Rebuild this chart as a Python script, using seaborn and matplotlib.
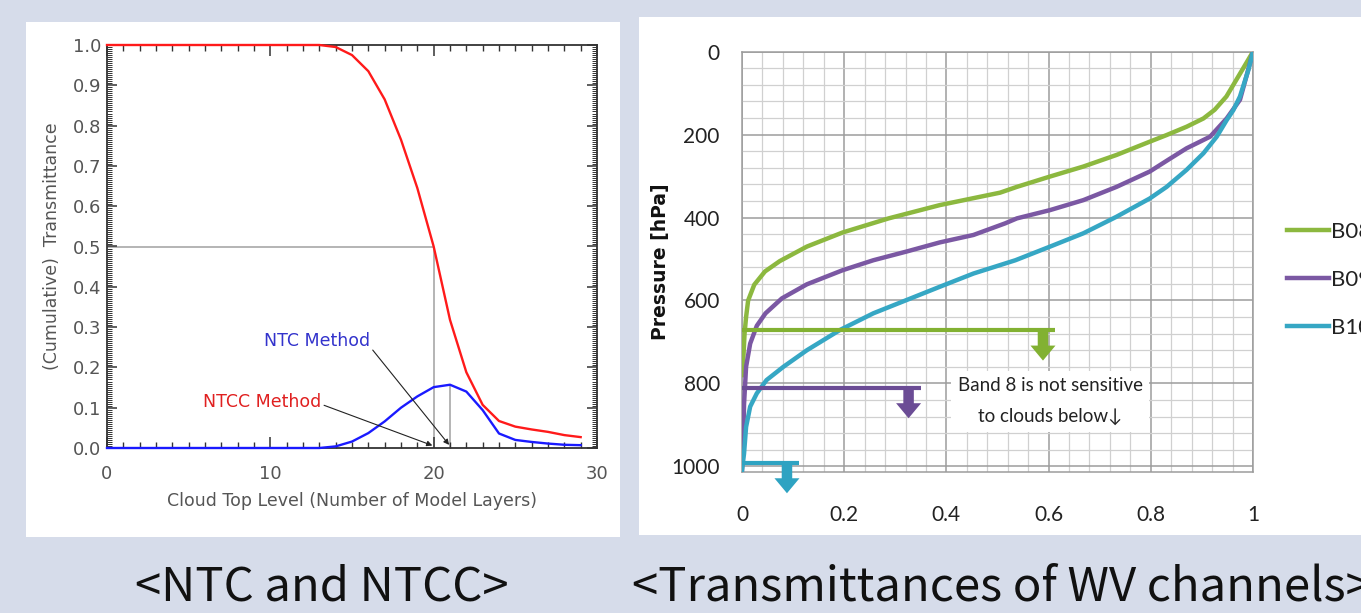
import numpy as np
import pandas as pd
import matplotlib
matplotlib.use("Agg")
import matplotlib.pyplot as plt
import seaborn as sns
from matplotlib.patches import Rectangle
from matplotlib.ticker import MultipleLocator, FixedLocator, FuncFormatter

# ---------------- data: left chart (NTC / NTCC) ----------------
layers = list(range(30))
ntcc = [1.0] * 14 + [0.995, 0.975, 0.935, 0.865, 0.765, 0.645, 0.5, 0.318,
                     0.188, 0.107, 0.067, 0.053, 0.046, 0.040, 0.032, 0.027]
ntc = [0.0] * 14 + [0.004, 0.016, 0.037, 0.066, 0.100, 0.128, 0.151, 0.157,
                    0.140, 0.094, 0.036, 0.020, 0.015, 0.011, 0.008, 0.007]
half_level = 0.5

# ---------------- data: right chart (WV transmittances) ----------------
b08_p = [0, 50, 108, 140, 161, 181, 201, 217, 249, 277, 301, 326, 340, 370, 402,
         436, 470, 505, 530, 562, 600, 640, 680, 730, 780]
b08_t = [1.0, 0.976, 0.948, 0.925, 0.903, 0.870, 0.831, 0.798, 0.733, 0.668, 0.603,
         0.538, 0.505, 0.387, 0.287, 0.197, 0.127, 0.074, 0.045, 0.024, 0.012,
         0.008, 0.005, 0.003, 0.0]
b09_p = [0, 60, 116, 161, 205, 233, 260, 289, 326, 358, 382, 402, 414, 442, 460,
         482, 503, 527, 561, 595, 631, 661, 704, 760, 850, 950, 1010]
b09_t = [1.0, 0.987, 0.9745, 0.9485, 0.916, 0.870, 0.835, 0.798, 0.733, 0.668, 0.603,
         0.538, 0.515, 0.453, 0.387, 0.322, 0.257, 0.197, 0.127, 0.078, 0.046,
         0.029, 0.016, 0.008, 0.004, 0.002, 0.0]
b10_p = [0, 44, 108, 141, 165, 205, 245, 285, 326, 354, 398, 438, 470, 503, 535,
         567, 599, 631, 671, 720, 760, 792, 824, 856, 905, 969, 1010]
b10_t = [1.0, 0.991, 0.9745, 0.9615, 0.9485, 0.929, 0.903, 0.870, 0.831, 0.798,
         0.733, 0.668, 0.603, 0.535, 0.453, 0.387, 0.322, 0.257, 0.192, 0.127,
         0.081, 0.048, 0.029, 0.016, 0.008, 0.004, 0.0]
bands = ["B08", "B09", "B10"]
cloud_level = [671, 810, 991]          # hPa, insensitivity level per band
cloud_line_end = [0.613, 0.350, 0.112]  # transmittance extent of marker line
y_ticks = [0, 200, 400, 600, 800, 1000]
x_ticks = [0, 0.2, 0.4, 0.6, 0.8, 1.0]
x_tick_labels = ["0", "0.2", "0.4", "0.6", "0.8", "1"]

# ---------------- figure ----------------
W, H = 1361, 613
fig = plt.figure(figsize=(W / 100, H / 100), dpi=100, facecolor="#d6dcea")

def fx(px):
    return px / W

def fy(py):
    return 1 - py / H

for (x0, y0, x1, y1) in [(26, 22, 620, 537), (639, 17, 1361, 535)]:
    fig.add_artist(Rectangle((fx(x0), fy(y1)), fx(x1 - x0), (y1 - y0) / H,
                             transform=fig.transFigure, facecolor="white",
                             edgecolor="none", zorder=-5))

# ================= left chart =================
ax1 = fig.add_axes([fx(107), fy(448), fx(490), 403 / H])
ax1.set_facecolor("white")
left_df = pd.DataFrame({"layer": layers, "NTCC": ntcc, "NTC": ntc})

layer_half = left_df.loc[(left_df["NTCC"] - half_level).abs().idxmin(), "layer"]
peak_idx = left_df["NTC"].idxmax()
peak_layer, peak_val = left_df.loc[peak_idx, "layer"], left_df.loc[peak_idx, "NTC"]

ax1.hlines(half_level, 0, layer_half, color="#a8a8a8", lw=1.2, zorder=1)
ax1.vlines(layer_half, 0, half_level, color="#a8a8a8", lw=1.2, zorder=1)
ax1.vlines(peak_layer, 0, peak_val, color="#a8a8a8", lw=1.2, zorder=1)

sns.lineplot(data=left_df, x="layer", y="NTCC", color="#ff1a1a", lw=1.7, ax=ax1,
             estimator=None, zorder=3)
sns.lineplot(data=left_df, x="layer", y="NTC", color="#1a1aff", lw=1.7, ax=ax1,
             estimator=None, zorder=3)
for ln in ax1.lines[-2:]:
    ln.set_clip_on(False)

ax1.set_xlim(0, 30)
ax1.set_ylim(0, 1.0)
ax1.xaxis.set_major_locator(MultipleLocator(10))
ax1.xaxis.set_minor_locator(MultipleLocator(1))
ax1.yaxis.set_major_locator(MultipleLocator(0.1))
ax1.yaxis.set_minor_locator(MultipleLocator(0.005))
ax1.yaxis.set_major_formatter(FuncFormatter(lambda v, p: f"{v:.1f}"))
ax1.tick_params(which="both", direction="in", top=True, right=True,
                color="#333333", labelcolor="#555555", labelsize=13)
ax1.tick_params(axis="x", which="major", length=8, width=1.1, pad=12)
ax1.tick_params(axis="x", which="minor", length=4.5, width=1.0)
ax1.tick_params(axis="y", which="major", length=7, width=1.1, pad=4)
ax1.tick_params(axis="y", which="minor", length=3.5, width=0.7)
for sp in ax1.spines.values():
    sp.set_color("#333333")
    sp.set_linewidth(1.3)
ax1.set_xlabel("Cloud Top Level (Number of Model Layers)", fontsize=12.5,
               color="#555555")
ax1.set_ylabel("(Cumulative)  Transmittance", fontsize=12.5, color="#555555")
ax1.xaxis.set_label_coords(0.5, -(492 - 448) / 403)
ax1.yaxis.set_label_coords((61 - 107) / 490, 0.5)

arrow_kw = dict(arrowstyle="-|>", color="#222222", lw=0.8, mutation_scale=8,
                shrinkA=0, shrinkB=1)
ax1.annotate("NTC Method", xy=(peak_layer, 0.005), xytext=(12.85, 0.265),
             ha="center", va="center", fontsize=12.5, color="#3333cc",
             arrowprops=dict(arrow_kw, relpos=(1.0, 0.2)))
ax1.annotate("NTCC Method", xy=(layer_half, 0.005), xytext=(9.5, 0.113),
             ha="center", va="center", fontsize=12.5, color="#e02020",
             arrowprops=dict(arrow_kw, relpos=(1.0, 0.4)))

# ================= right chart =================
ax2 = fig.add_axes([fx(742), fy(471.7), fx(511), 420 / H])
ax2.set_facecolor("white")
colors = {"B08": "#8cb83f", "B09": "#7b58a3", "B10": "#36a7c4"}
arrow_colors = {"B08": "#82b132", "B09": "#6b4c95", "B10": "#2ea3c2"}
right_df = pd.concat([
    pd.DataFrame({"T": b08_t, "P": b08_p, "band": "B08"}),
    pd.DataFrame({"T": b09_t, "P": b09_p, "band": "B09"}),
    pd.DataFrame({"T": b10_t, "P": b10_p, "band": "B10"}),
], ignore_index=True)
sns.lineplot(data=right_df, x="T", y="P", hue="band", palette=colors, sort=False,
             estimator=None, lw=3.2, ax=ax2, legend=False, zorder=3)

for band, lvl, xend in zip(bands, cloud_level, cloud_line_end):
    ax2.hlines(lvl, 0, xend, color=arrow_colors[band], lw=3.0, zorder=4)
    ax2.annotate("", xy=(xend - 0.024, lvl + 74), xytext=(xend - 0.024, lvl),
                 annotation_clip=False,
                 arrowprops=dict(arrowstyle="simple,head_length=0.6,head_width=1.0,tail_width=0.42",
                                 fc=arrow_colors[band], ec="none", mutation_scale=18,
                                 shrinkA=0, shrinkB=0, clip_on=False), zorder=5)

ax2.text(0.603, 843, "Band 8 is not sensitive\nto clouds below\u2193", ha="center",
         va="center", fontsize=13.5, family=["Lato", "DejaVu Sans"], color="#222222",
         linespacing=2.0, zorder=6,
         bbox=dict(boxstyle="square,pad=0.35", fc="white", ec="none"))

ax2.set_xlim(0, 1)
ax2.set_ylim(1013, 0)
ax2.xaxis.set_major_locator(FixedLocator(x_ticks))
ax2.xaxis.set_minor_locator(MultipleLocator(0.04))
ax2.yaxis.set_major_locator(FixedLocator(y_ticks))
ax2.yaxis.set_minor_locator(MultipleLocator(40))
ax2.set_xticklabels(x_tick_labels)
ax2.set_yticklabels([str(v) for v in y_ticks])
ax2.grid(which="major", color="#9c9c9c", lw=1.1, zorder=0)
ax2.grid(which="minor", color="#d0d0d0", lw=0.9, zorder=0)
ax2.set_axisbelow(True)
ax2.tick_params(which="both", length=0, labelsize=15, labelcolor="#222222")
ax2.tick_params(axis="x", pad=24)
ax2.tick_params(axis="y", pad=16)
for lab in ax2.get_xticklabels() + ax2.get_yticklabels():
    lab.set_family(["Lato", "DejaVu Sans"])
for sp in ax2.spines.values():
    sp.set_color("#9c9c9c")
    sp.set_linewidth(1.1)
ax2.set_xlabel("")
ax2.set_ylabel("Pressure [hPa]", fontsize=13.5, fontweight="bold", color="#111111")
ax2.yaxis.set_label_coords((670 - 742) / 511, 0.5)

handles = ax2.lines[:3]
leg = ax2.legend(handles, bands, loc="center left",
                 bbox_to_anchor=((1287 - 742) / 511, (471.7 - 280) / 420),
                 frameon=False, borderpad=0, borderaxespad=0, handlelength=1.9,
                 handletextpad=0.1, labelspacing=1.25,
                 prop={"family": "Lato", "size": 16})
for t in leg.get_texts():
    t.set_color("#222222")

# ---------------- captions ----------------
cap_font = ["Noto Sans CJK KR", "DejaVu Sans"]
fig.text(fx(322), fy(587), "<NTC and NTCC>", ha="center", va="center",
         fontsize=34, family=cap_font, color="#111111")
fig.text(fx(632), fy(587), "<Transmittances of WV channels>", ha="left",
         va="center", fontsize=34, family=cap_font, color="#111111")

fig.savefig("out.png", dpi=100, facecolor=fig.get_facecolor())
